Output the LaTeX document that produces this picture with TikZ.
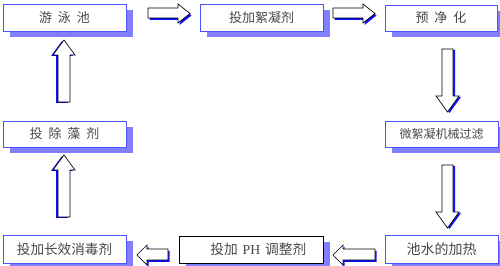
\documentclass[tikz,border=0pt]{standalone}
\usepackage{fontspec}
\setmainfont{Noto Sans CJK SC}
\newfontfamily\latinserif{Liberation Serif}
\definecolor{boxblue}{HTML}{5050FF}
\definecolor{shadowblue}{HTML}{8080FF}
\definecolor{arrowblue}{HTML}{1010FF}
\definecolor{txtgray}{HTML}{484848}
\newcommand\gap{\hspace{0.45em}}
% block arrows: shadow first, then white arrow with black outline
\newcommand\rightblk[3]{% left x, head top y, length
  \fill[arrowblue,shift={(#1+1.5,#2+2)}] (0,4) -- (#3-12,4) -- (#3-12,0) -- (#3,9.5) -- (#3-12,19) -- (#3-12,14) -- (0,14) -- cycle;
  \draw[blkarrow,shift={(#1,#2)}] (0,4) -- (#3-12,4) -- (#3-12,0) -- (#3,9.5) -- (#3-12,19) -- (#3-12,14) -- (0,14) -- cycle;}
\newcommand\leftblk[3]{% tip x, head top y, length
  \fill[arrowblue,shift={(#1+1.5,#2+2)}] (0,10) -- (10,0) -- (10,4) -- (#3,4) -- (#3,15) -- (10,15) -- (10,20) -- cycle;
  \draw[blkarrow,shift={(#1,#2)}] (0,10) -- (10,0) -- (10,4) -- (#3,4) -- (#3,15) -- (10,15) -- (10,20) -- cycle;}
\newcommand\downblk[2]{% head left x, top y
  \fill[arrowblue,shift={(#1+2,#2+1)}] (6,0) -- (17,0) -- (17,47) -- (23,47) -- (11.5,63) -- (0,47) -- (6,47) -- cycle;
  \draw[blkarrow,shift={(#1,#2)}] (6,0) -- (17,0) -- (17,47) -- (23,47) -- (11.5,63) -- (0,47) -- (6,47) -- cycle;}
\newcommand\upblk[2]{% head left x, tip y
  \fill[arrowblue,shift={(#1-2,#2+1)}] (11,0) -- (22,15) -- (17,15) -- (17,62) -- (5,62) -- (5,15) -- (0,15) -- cycle;
  \draw[blkarrow,shift={(#1,#2)}] (11,0) -- (22,15) -- (17,15) -- (17,62) -- (5,62) -- (5,15) -- (0,15) -- cycle;}
\begin{document}
\begin{tikzpicture}[x=0.75pt,y=-0.75pt,
  box/.style={draw=boxblue,fill=white,line width=0.6pt,inner sep=0pt,
    text=txtgray,font=\fontsize{9.75pt}{10pt}\selectfont},
  blackbox/.style={box,draw=black},
  blkarrow/.style={draw=black,fill=white,line width=0.5pt,line join=miter}]
\clip (0,0) rectangle (500,266);
\useasboundingbox (0,0) rectangle (500,266);
\fill[white] (0,0) rectangle (500,266);
% shadows
\foreach \xa/\ya/\xb/\yb in {3/4/126/31, 200/4/323/31, 385/5/497/31, 385/121/498/147,
    3/121/126/147, 3/235/126/263, 179/236/323/263, 385/235/498/263}
  \fill[shadowblue] (\xa+7,\ya+6) rectangle (\xb+7,\yb+6);
% boxes
\node[box,minimum width=92.25pt,minimum height=20.25pt] (b1) at (64.5,17.5) {游\gap 泳\gap 池};
\node[box,minimum width=92.25pt,minimum height=20.25pt] (b2) at (261.5,17.5) {投加絮凝剂};
\node[box,minimum width=84pt,minimum height=19.5pt] (b3) at (441,18) {预\gap 净\gap 化};
\node[box,minimum width=84.75pt,minimum height=19.5pt,font=\fontsize{9pt}{10pt}\selectfont] (b4) at (441.5,134) {微絮凝机械过滤};
\node[box,minimum width=92.25pt,minimum height=19.5pt] (b5) at (64.5,134) {投\gap 除\gap 藻\gap 剂};
\node[box,minimum width=92.25pt,minimum height=21pt,font=\fontsize{10.2pt}{11pt}\selectfont] (b6) at (64.5,249) {投加长效消毒剂};
\node[blackbox,minimum width=108pt,minimum height=20.25pt,font=\fontsize{10.3pt}{11pt}\selectfont] (b7) at (251,249.5) {\hspace{11pt}投加\hspace{0.35em}{\latinserif PH}\hspace{0.35em}调整剂};
\node[box,minimum width=84.75pt,minimum height=21pt,font=\fontsize{10.5pt}{11pt}\selectfont] (b8) at (441.5,249) {池水的加热};
% block arrows
\rightblk{148}{4}{42}
\rightblk{333}{4}{42}
\downblk{436}{49}
\downblk{436}{165}
\leftblk{333}{245}{42}
\leftblk{137}{245}{31}
\upblk{53}{155}
\upblk{53}{40}
\end{tikzpicture}
\end{document}
